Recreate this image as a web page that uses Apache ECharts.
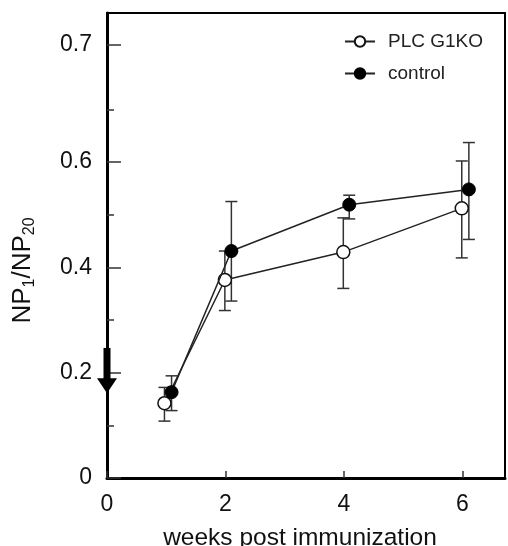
<!DOCTYPE html>
<html>
<head>
<meta charset="utf-8">
<script src="https://cdn.jsdelivr.net/npm/echarts@6/dist/echarts.min.js"></script>
<style>html,body{margin:0;padding:0;background:#fff}#c{width:508px;height:546px}</style>
</head>
<body>
<div id="c"></div>
<script>
// ---- data ----
var seriesNames = ['PLC G1KO', 'control'];
var weeksKO = [0.97, 1.99, 3.99, 5.99];
var ratioKO = [0.142, 0.376, 0.429, 0.512];
var ratioKOHigh = [0.172, 0.431, 0.494, 0.602];
var ratioKOLow = [0.108, 0.318, 0.360, 0.418];
var weeksCtl = [1.09, 2.10, 4.09, 6.11];
var ratioCtl = [0.163, 0.431, 0.519, 0.548];
var ratioCtlHigh = [0.194, 0.525, 0.537, 0.637];
var ratioCtlLow = [0.128, 0.336, 0.492, 0.453];
var arrowWeek = [0];
var arrowFrom = [0.247];
var arrowTo = [0.161];
var yMajorTicks = [0, 0.2, 0.4, 0.6, 0.8235];
var yTickLabels = ['0', '0.2', '0.4', '0.6', '0.7'];
var yMinorTicks = [0.1, 0.3, 0.5, 0.7];
var xTicks = [0, 2, 4, 6];

var FONT = 'Liberation Sans, Arial, sans-serif';
function pairs(xs, ys){ return xs.map(function(x,i){ return [x, ys[i]]; }); }
function errData(xs, lo, hi){ return xs.map(function(x,i){ return [x, lo[i], hi[i]]; }); }

function errRender(params, api){
  var x = api.value(0);
  var lo = api.coord([x, api.value(1)]);
  var hi = api.coord([x, api.value(2)]);
  var w = 6;
  var st = {stroke:'#333', lineWidth:1.5};
  return {type:'group', children:[
    {type:'line', shape:{x1:lo[0], y1:lo[1], x2:hi[0], y2:hi[1]}, style:st},
    {type:'line', shape:{x1:lo[0]-w, y1:lo[1], x2:lo[0]+w, y2:lo[1]}, style:st},
    {type:'line', shape:{x1:hi[0]-w, y1:hi[1], x2:hi[0]+w, y2:hi[1]}, style:st}
  ]};
}
function arrowRender(params, api){
  var x = api.value(0);
  var a = api.coord([x, api.value(1)]);
  var b = api.coord([x, api.value(2)]);
  var hh = 14, hw = 10, sw = 7;
  return {type:'group', children:[
    {type:'rect', shape:{x:a[0]-sw/2, y:a[1], width:sw, height:(b[1]-hh)-a[1]}, style:{fill:'#000'}},
    {type:'polygon', shape:{points:[[b[0]-hw, b[1]-hh-1],[b[0]+hw, b[1]-hh-1],[b[0], b[1]]]}, style:{fill:'#000'}}
  ]};
}

var chart = echarts.init(document.getElementById('c'), null, {renderer:'canvas'});
chart.setOption({
  animation:false,
  backgroundColor:'#fff',
  grid:{left:107, right:3, top:13, bottom:68, show:true, borderColor:'#000', borderWidth:2,
    backgroundColor:'transparent', outerBoundsMode:'none', containLabel:false},
  legend:{
    orient:'vertical', left:339, top:27, itemWidth:30, itemHeight:13, itemGap:13,
    data:seriesNames,
    textStyle:{fontFamily:FONT, fontSize:19, color:'#222', padding:[0,0,0,8]}
  },
  xAxis:{
    type:'value', min:0, max:6.72, interval:2,
    axisLine:{show:true, onZero:false, lineStyle:{color:'#000', width:3}},
    axisTick:{show:true, inside:true, length:7, lineStyle:{color:'#333', width:1.5}},
    axisLabel:{fontFamily:FONT, fontSize:23, color:'#111', margin:15, showMaxLabel:false,
      formatter:function(v){ var i = xTicks.indexOf(v); return i >= 0 ? String(xTicks[i]) : ''; }},
    splitLine:{show:false},
    name:'weeks post immunization', nameLocation:'middle', nameGap:48,
    nameTextStyle:{fontFamily:FONT, fontSize:24.5, color:'#111', padding:[0,12,0,0]}
  },
  yAxis:[{
    type:'value', min:0, max:0.883,
    axisLine:{show:true, onZero:false, lineStyle:{color:'#000', width:3}},
    axisTick:{show:true, inside:true, length:14, customValues:yMajorTicks, lineStyle:{color:'#333', width:1.5}},
    axisLabel:{fontFamily:FONT, fontSize:23, color:'#111', margin:15, customValues:yMajorTicks,
      formatter:function(v){
        for (var i=0;i<yMajorTicks.length;i++){ if (Math.abs(v-yMajorTicks[i])<1e-6) return yTickLabels[i]; }
        return '';
      }},
    splitLine:{show:false},
    name:'NP{s|1}/NP{s|20}', nameLocation:'middle', nameRotate:90, nameGap:69,
    nameTextStyle:{fontFamily:FONT, fontSize:26, color:'#111', padding:[0,50,0,0], lineHeight:30,
      rich:{s:{fontFamily:FONT, fontSize:16, color:'#111', verticalAlign:'bottom', lineHeight:16, padding:[11,0,0,0]}}}
  },{
    type:'value', min:0, max:0.883, position:'left',
    axisLine:{show:false},
    axisTick:{show:true, inside:true, length:7, customValues:yMinorTicks, lineStyle:{color:'#333', width:1.5}},
    axisLabel:{show:false},
    splitLine:{show:false}
  }],
  series:[
    {type:'custom', name:'koErr', renderItem:errRender, data:errData(weeksKO, ratioKOLow, ratioKOHigh), z:1, encode:{x:0, y:[1,2]}, silent:true},
    {type:'custom', name:'ctlErr', renderItem:errRender, data:errData(weeksCtl, ratioCtlLow, ratioCtlHigh), z:1, encode:{x:0, y:[1,2]}, silent:true},
    {type:'line', name:seriesNames[0], data:pairs(weeksKO, ratioKO), symbol:'circle', symbolSize:13,
      lineStyle:{color:'#222', width:1.5}, itemStyle:{color:'#fff', borderColor:'#111', borderWidth:1.5}, z:3},
    {type:'line', name:seriesNames[1], data:pairs(weeksCtl, ratioCtl), symbol:'circle', symbolSize:13,
      lineStyle:{color:'#222', width:1.5}, itemStyle:{color:'#000', borderColor:'#000', borderWidth:1}, z:4},
    {type:'custom', name:'arrow', renderItem:arrowRender, clip:false, z:5,
      data:arrowWeek.map(function(x,i){ return [x, arrowFrom[i], arrowTo[i]]; }), encode:{x:0, y:[1,2]}, silent:true}
  ]
});
</script>
</body>
</html>
